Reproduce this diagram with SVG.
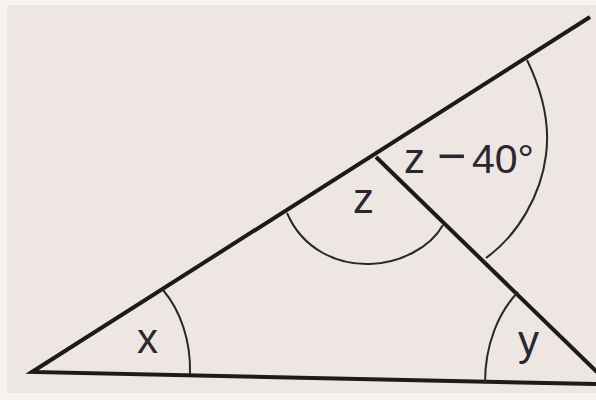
<svg xmlns="http://www.w3.org/2000/svg" width="596" height="400" viewBox="0 0 596 400">
  <style>
    .ln { fill: none; stroke: #1c1a1c; stroke-width: 4; stroke-linecap: butt; stroke-linejoin: miter; }
    .arc { fill: none; stroke: #2a272a; stroke-width: 2; }
    .lbl { font-family: "Liberation Sans", Arial, sans-serif; font-size: 42px; fill: #2a2730; }
  </style>
  <rect x="0" y="0" width="596" height="400" fill="#f6f3f1"/>
  <rect x="7" y="5" width="589" height="388" fill="#ede6e2"/>
  <g id="lines">
    <path class="ln" d="M590,17 L32,372 L596,384"/>
    <path class="ln" d="M376,157 L597,372"/>
  </g>
  <g id="arcs">
    <path id="arc-x" class="arc" d="M163,290 C180,310 191,340 190,374"/>
    <path id="arc-z" class="arc" d="M287,213 C303,250 338,265 370,264 C400,263 430,248 443,225"/>
    <path id="arc-z40" class="arc" d="M527,60 C544,95 550,125 546,155 C541,195 518,235 486,258"/>
    <path id="arc-y" class="arc" d="M518,292 C498,313 485,345 485,383"/>
  </g>
  <g id="labels">
    <text class="lbl" x="137" y="353">x</text>
    <text class="lbl" x="353" y="213">z</text>
    <text class="lbl" y="173"><tspan x="404">z</tspan><tspan x="437" font-size="50">−</tspan><tspan x="472" font-size="41">40°</tspan></text>
    <text class="lbl" x="518" y="355">y</text>
  </g>
</svg>
